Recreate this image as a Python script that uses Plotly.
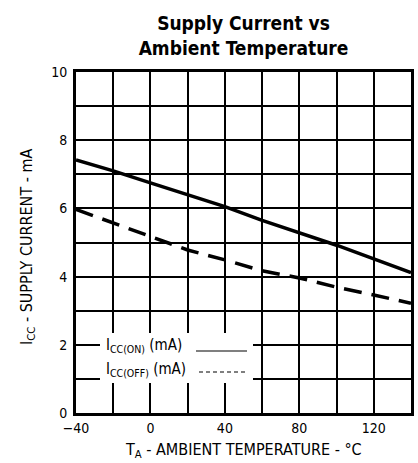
import plotly.graph_objects as go

temps = [-40, -20, 0, 20, 40, 60, 80, 100, 120, 140]
icc_on = [7.42, 7.10, 6.75, 6.40, 6.05, 5.65, 5.28, 4.92, 4.52, 4.12]
icc_off = [5.97, 5.57, 5.16, 4.78, 4.49, 4.17, 3.96, 3.69, 3.46, 3.22]

FONT = "Liberation Sans Narrow, DejaVu Sans Condensed, Arial Narrow, sans-serif"

fig = go.Figure()
fig.add_trace(go.Scatter(x=temps, y=icc_on, mode="lines",
                         line=dict(color="black", width=3.5), showlegend=False))
fig.add_trace(go.Scatter(x=temps, y=icc_off, mode="lines",
                         line=dict(color="black", width=3.5, dash="18px,10px"), showlegend=False))

L, R, T, B = 76, 7, 72, 50
W, H = 418, 463
pw, ph = W - L - R, H - T - B

def px(xp):
    return (xp - L) / pw

def py(yp):
    return (H - B - yp) / ph

grid = dict(showgrid=True, gridcolor="black", gridwidth=2)
fig.update_layout(
    width=W, height=H,
    margin=dict(l=L, r=R, t=T, b=B, autoexpand=False),
    paper_bgcolor="white", plot_bgcolor="white",
    font=dict(family=FONT, color="black"),
    title=dict(text="<b>Supply Current vs<br>Ambient Temperature</b>",
               x=px(243.5), xref="paper", xanchor="center",
               y=1 - 30 / H, yanchor="middle",
               font=dict(size=19, family=FONT)),
    xaxis=dict(range=[-40, 140], tick0=-40, dtick=40,
               minor=dict(tick0=-40, dtick=20, **grid), **grid,
               showline=True, linecolor="black", linewidth=3, mirror=True,
               zeroline=False, ticks="", tickfont=dict(size=14), automargin=False),
    yaxis=dict(range=[0, 10], tick0=0, dtick=2,
               minor=dict(tick0=0, dtick=1, **grid), **grid,
               showline=True, linecolor="black", linewidth=3, mirror=True,
               zeroline=False, ticks="", tickfont=dict(size=14), automargin=False,
               ticklabelstandoff=3),
)

# legend box
fig.add_shape(type="rect", xref="paper", yref="paper",
              x0=px(100), x1=px(253), y0=py(383), y1=py(333),
              fillcolor="white", line=dict(width=0), layer="above")
fig.add_shape(type="line", xref="paper", yref="paper",
              x0=px(196), x1=px(247), y0=py(351), y1=py(351),
              line=dict(color="black", width=1.2), layer="above")
fig.add_shape(type="line", xref="paper", yref="paper",
              x0=px(199), x1=px(247), y0=py(372), y1=py(372),
              line=dict(color="black", width=1.2, dash="4px,3px"), layer="above")
fig.add_annotation(xref="paper", yref="paper", x=px(104), y=py(345),
                   text="I<sub>CC(ON)</sub> (mA)", showarrow=False,
                   xanchor="left", yanchor="middle", font=dict(size=15))
fig.add_annotation(xref="paper", yref="paper", x=px(104), y=py(369),
                   text="I<sub>CC(OFF)</sub> (mA)", showarrow=False,
                   xanchor="left", yanchor="middle", font=dict(size=15))

# axis titles
fig.add_annotation(xref="paper", yref="paper", x=px(27), y=py(247),
                   text="I<sub>CC</sub> - SUPPLY CURRENT - mA", textangle=-90,
                   showarrow=False, xanchor="center", yanchor="middle",
                   font=dict(size=16))
fig.add_annotation(xref="paper", yref="paper", x=px(243), y=py(451),
                   text="T<sub>A</sub> - AMBIENT TEMPERATURE - °C",
                   showarrow=False, xanchor="center", yanchor="middle",
                   font=dict(size=16))

fig.write_html("out.html", config={"displayModeBar": False},
               post_script="document.body.style.margin='0';document.body.style.overflow='hidden';")
